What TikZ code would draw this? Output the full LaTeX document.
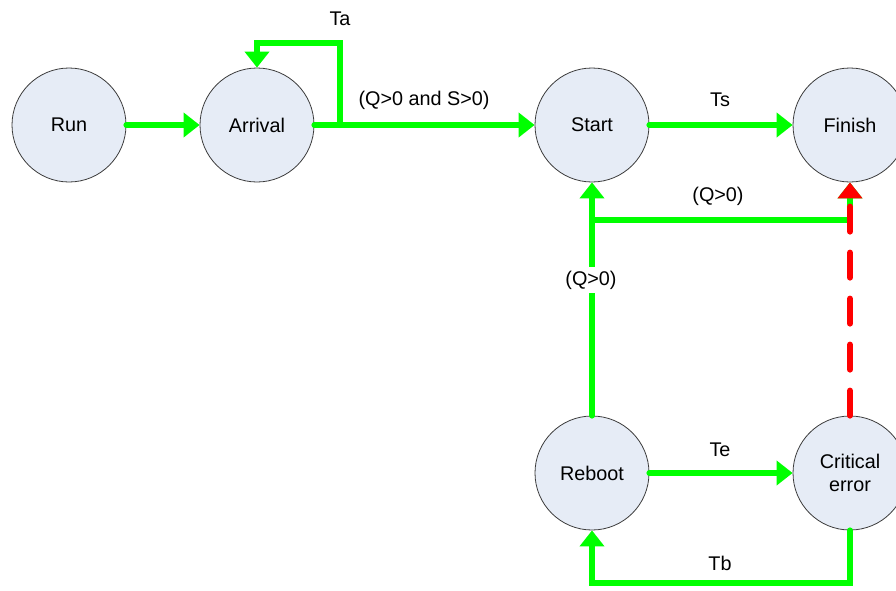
\documentclass[tikz,border=0pt]{standalone}
\usepackage{fontspec}
\setmainfont{Liberation Sans}
\usetikzlibrary{arrows.meta}
\definecolor{statefill}{RGB}{230,236,246}
\definecolor{stateline}{RGB}{60,60,60}
\definecolor{flowgreen}{RGB}{0,255,0}
\definecolor{flowred}{RGB}{255,0,0}
\begin{document}
\begin{tikzpicture}[x=1pt,y=-1pt,
  state/.style={circle,draw=stateline,line width=0.8pt,fill=statefill,
    minimum size=114pt,inner sep=0pt,align=center,
    font=\fontsize{19.8}{23}\selectfont},
  flow/.style={draw=flowgreen,line width=6pt,line cap=round,
    -{Triangle[width=24pt,length=16pt]}},
  fault/.style={draw=flowred,line width=6pt,line cap=round,
    dash pattern=on 25pt off 21pt,
    -{Triangle[width=24pt,length=16pt]}},
  lbl/.style={font=\fontsize{19.8}{23}\selectfont,inner sep=1pt}]
  \useasboundingbox (0,0) rectangle (896,590);
  \begin{scope}
    \clip (0,0) rectangle (896,590);
    % states
    \node[state] (run) at (69,125) {Run};
    \node[state] (arr) at (257,125) {Arrival};
    \node[state] (start) at (592,125) {Start};
    \node[state] (fin) at (850,125) {Finish};
    \node[state] (reb) at (592,473) {Reboot};
    \node[state] (crit) at (850,473) {Critical\\error};
  \end{scope}
  % junctions and corners of the routed connectors
  \coordinate (jta) at (340,125);
  \coordinate (jq) at (592,220);
  \coordinate (ctb) at (720,583);
  % transitions
  \draw[flow] (run) -- (arr);
  \draw[flow] (arr) -- (start);
  \draw[flow] (jta) -- (340,43) -| (arr.north);
  \draw[flow] (start) -- (fin);
  \draw[flow] (reb) -- (start);
  \draw[flow] (jq) -| (fin.south);
  \draw[flow] (reb) -- (crit);
  \draw[flow] (crit.south) |- (ctb) -| (reb.south);
  \draw[fault] (crit.north) -- (fin.south);
  % labels
  \node[lbl] (lta) at (340,19) {Ta};
  \node[lbl] (lqs) at (424,100) {(Q>0 and S>0)};
  \node[lbl] (lts) at (720,100) {Ts};
  \node[lbl] (lq1) at (718,196) {(Q>0)};
  \node[lbl,fill=white,inner sep=4pt] (lq2) at (591,280) {(Q>0)};
  \node[lbl] (lte) at (720,450) {Te};
  \node[lbl] (ltb) at (720,563) {Tb};
\end{tikzpicture}
\end{document}
